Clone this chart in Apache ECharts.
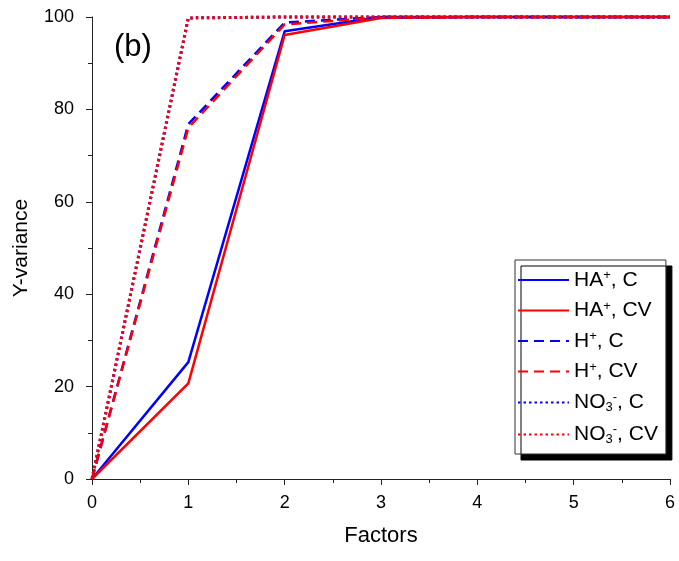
<!DOCTYPE html>
<html>
<head>
<meta charset="utf-8">
<script src="https://cdn.jsdelivr.net/npm/echarts@6/dist/echarts.min.js"></script>
<style>html,body{margin:0;padding:0;background:#fff;}#c{width:679px;height:561px;}</style>
</head>
<body>
<div id="c"></div>
<script>
var factors = [0, 1, 2, 3, 4, 5, 6];
var haC   = [0, 25.3, 96.9, 100, 100, 100, 100];
var haCV  = [0, 20.7, 96.1, 99.8, 100, 100, 100];
var hC    = [0, 76.8, 98.8, 100, 100, 100, 100];
var hCV   = [0, 76.0, 98.4, 99.9, 100, 100, 100];
var no3C  = [0, 99.8, 100, 100, 100, 100, 100];
var no3CV = [0, 99.8, 100, 100, 100, 100, 100];
var seriesNames = ['HA+, C', 'HA+, CV', 'H+, C', 'H+, CV', 'NO3-, C', 'NO3-, CV'];
var legendRich = {
  'HA+, C':  '{n|HA}{sup|+}{n|, C}',
  'HA+, CV': '{n|HA}{sup|+}{n|, CV}',
  'H+, C':   '{n|H}{sup|+}{n|, C}',
  'H+, CV':  '{n|H}{sup|+}{n|, CV}',
  'NO3-, C': '{n|NO}{sub|3}{sup|-}{n|, C}',
  'NO3-, CV':'{n|NO}{sub|3}{sup|-}{n|, CV}'
};
var xTicks = [0, 1, 2, 3, 4, 5, 6];
var yTicks = [0, 20, 40, 60, 80, 100];

function pairs(arr) { return arr.map(function (v, i) { return [factors[i], v]; }); }

var BLUE = '#0000ff', RED = '#ff0000';
var styles = [
  {color: BLUE, type: 'solid', width: 2.5},
  {color: RED, type: 'solid', width: 2.5},
  {color: BLUE, type: [10, 6], width: 2.5},
  {color: RED, type: [10, 6], width: 2.5},
  {color: BLUE, type: [2.5, 3], width: 3},
  {color: RED, type: [2.5, 3], width: 3}
];
var datas = [haC, haCV, hC, hCV, no3C, no3CV];

var series = seriesNames.map(function (name, i) {
  return {
    name: name,
    type: 'line',
    data: pairs(datas[i]),
    symbol: 'none',
    showSymbol: false,
    clip: false,
    color: styles[i].color,
    lineStyle: styles[i],
    animation: false
  };
});

var font = 'Arial, "Liberation Sans", sans-serif';
var chart = echarts.init(document.getElementById('c'));
chart.setOption({
  animation: false,
  title: {
    text: '(b)', left: 109, top: 27,
    textStyle: {fontSize: 31, fontWeight: 'normal', color: '#000', fontFamily: font}
  },
  grid: {left: 92, top: 17, right: 9, bottom: 82},
  legend: {
    orient: 'vertical',
    left: 515, top: 260,
    padding: [9, 8, 8, 2],
    itemGap: 9,
    itemWidth: 51,
    itemHeight: 14,
    selectedMode: false,
    backgroundColor: '#fff',
    borderColor: '#333',
    borderWidth: 1,
    shadowColor: '#000',
    shadowBlur: 0,
    shadowOffsetX: 6,
    shadowOffsetY: 6,
    itemStyle: {opacity: 0},
    data: seriesNames,
    formatter: function (n) { return legendRich[n]; },
    textStyle: {
      fontFamily: font, fontSize: 21, color: '#000', padding: [0, 0, 0, 0],
      rich: {
        n: {fontSize: 21, fontFamily: font, color: '#000', lineHeight: 22},
        sup: {fontSize: 13, fontFamily: font, color: '#000', verticalAlign: 'top', lineHeight: 22},
        sub: {fontSize: 13, fontFamily: font, color: '#000', verticalAlign: 'bottom', lineHeight: 23}
      }
    }
  },
  xAxis: {
    type: 'value', min: 0, max: 6, interval: 1,
    name: 'Factors', nameLocation: 'middle', nameGap: 46,
    nameTextStyle: {fontSize: 22, color: '#000', fontFamily: font},
    axisLine: {show: true, onZero: false, lineStyle: {color: '#222', width: 1}},
    axisTick: {show: true, inside: false, length: 6, lineStyle: {color: '#222'}},
    minorTick: {show: true, splitNumber: 2, length: 4, lineStyle: {color: '#222'}},
    splitLine: {show: false},
    axisLabel: {fontSize: 18, color: '#000', fontFamily: font, margin: 15,
      formatter: function (v) { return xTicks.indexOf(v) >= 0 ? String(v) : ''; }}
  },
  yAxis: {
    type: 'value', min: 0, max: 100, interval: 20,
    name: 'Y-variance', nameLocation: 'middle', nameGap: 60, nameRotate: 90,
    nameTextStyle: {fontSize: 21, color: '#000', fontFamily: font},
    axisLine: {show: true, onZero: false, lineStyle: {color: '#222', width: 1}},
    axisTick: {show: true, inside: false, length: 6, lineStyle: {color: '#222'}},
    minorTick: {show: true, splitNumber: 2, length: 4, lineStyle: {color: '#222'}},
    splitLine: {show: false},
    axisLabel: {fontSize: 18, color: '#000', fontFamily: font, margin: 18,
      formatter: function (v) { return yTicks.indexOf(v) >= 0 ? String(v) : ''; }}
  },
  series: series
});
</script>
</body>
</html>
